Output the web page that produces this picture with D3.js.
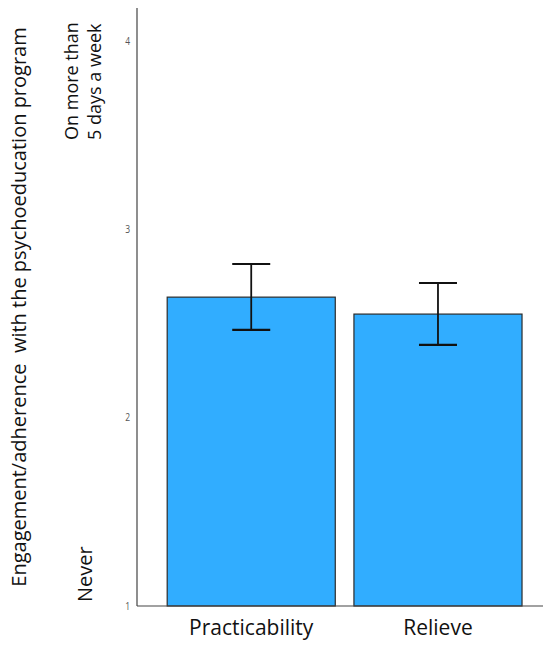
<!DOCTYPE html>
<html>
<head>
<meta charset="utf-8">
<script src="https://cdn.jsdelivr.net/npm/d3@7"></script>
<style>
	body { margin: 0; background: #fff; }
	text { font-family: "Open Sans", sans-serif; fill: #111; }
</style>
</head>
<body>
<div id="chart"></div>
<script>
const categories = ["Practicability", "Relieve"];
const means = [2.64, 2.55];
const ciLow = [2.466, 2.386];
const ciHigh = [2.816, 2.715];
const yTicks = [1, 2, 3, 4];
const yTitle = "Engagement/adherence  with the psychoeducation program";
const topLabel = ["On more than", "5 days a week"];
const bottomLabel = "Never";

const width = 550;
const height = 648;
const margin = {top: 8, right: 7, bottom: 42, left: 137};

const svg = d3.select("#chart")
	.append("svg")
		.attr("width", width)
		.attr("height", height);

const y = d3.scaleLinear()
	.domain([1, 4])
	.range([606, 41]);

const x = d3.scaleBand()
	.domain(categories)
	.range([margin.left, width - margin.right])
	.paddingInner(0.1)
	.paddingOuter(0.137)
	.align(0.59);

// bars
svg.append("g")
	.selectAll("rect")
	.data(categories)
	.join("rect")
		.attr("x", d => x(d))
		.attr("width", x.bandwidth())
		.attr("y", (d, i) => y(means[i]))
		.attr("height", (d, i) => y(1) - y(means[i]))
		.style("fill", "#31adff")
		.style("stroke", "#2b2b2b")
		.style("stroke-width", 1.2);

// error bars
const capHalf = 19;
const err = svg.append("g")
	.selectAll("g")
	.data(categories)
	.join("g")
		.style("stroke", "#111")
		.style("stroke-width", 1.8);

err.append("line")
	.attr("x1", d => x(d) + x.bandwidth() / 2)
	.attr("x2", d => x(d) + x.bandwidth() / 2)
	.attr("y1", (d, i) => y(ciLow[i]))
	.attr("y2", (d, i) => y(ciHigh[i]));
err.append("line")
	.attr("x1", d => x(d) + x.bandwidth() / 2 - capHalf)
	.attr("x2", d => x(d) + x.bandwidth() / 2 + capHalf)
	.attr("y1", (d, i) => y(ciHigh[i]))
	.attr("y2", (d, i) => y(ciHigh[i]));
err.append("line")
	.attr("x1", d => x(d) + x.bandwidth() / 2 - capHalf)
	.attr("x2", d => x(d) + x.bandwidth() / 2 + capHalf)
	.attr("y1", (d, i) => y(ciLow[i]))
	.attr("y2", (d, i) => y(ciLow[i]))
	.style("stroke-width", 2.2);

// axes
const yAxis = svg.append("g")
	.attr("transform", `translate(${margin.left},0)`)
	.call(d3.axisLeft(y).tickValues(yTicks).tickSize(0).tickPadding(7).tickFormat(d3.format("d")));
yAxis.select(".domain").remove();
yAxis.selectAll("text")
	.style("font-size", "10px")
	.style("fill", "#555")
	.attr("transform", "scale(0.85,1)")
	.attr("x", -8);

svg.append("line")
	.attr("x1", margin.left).attr("x2", margin.left)
	.attr("y1", margin.top).attr("y2", y(1))
	.style("stroke", "#444")
	.style("stroke-width", 1.2);

svg.append("line")
	.attr("x1", margin.left).attr("x2", width - margin.right)
	.attr("y1", y(1)).attr("y2", y(1))
	.style("stroke", "#444")
	.style("stroke-width", 1.2);

svg.append("g")
	.selectAll("text")
	.data(categories)
	.join("text")
		.attr("x", d => x(d) + x.bandwidth() / 2)
		.attr("y", y(1) + 29)
		.attr("text-anchor", "middle")
		.style("font-size", "21px")
		.text(d => d);

// y title (keeps the double space)
svg.append("text")
	.attr("transform", `translate(26,307) rotate(-90)`)
	.attr("text-anchor", "middle")
	.style("font-size", "20px")
	.style("white-space", "pre")
	.text(yTitle);

// level labels
svg.append("g")
	.selectAll("text")
	.data(topLabel)
	.join("text")
		.attr("transform", (d, i) => `translate(${78 + i * 23},${y(4) + 99}) rotate(-90)`)
		.attr("text-anchor", "start")
		.style("font-size", "18px")
		.text(d => d);

svg.append("text")
	.attr("transform", `translate(92,${y(1) - 4}) rotate(-90)`)
	.attr("text-anchor", "start")
	.style("font-size", "20px")
	.text(bottomLabel);
</script>
</body>
</html>
